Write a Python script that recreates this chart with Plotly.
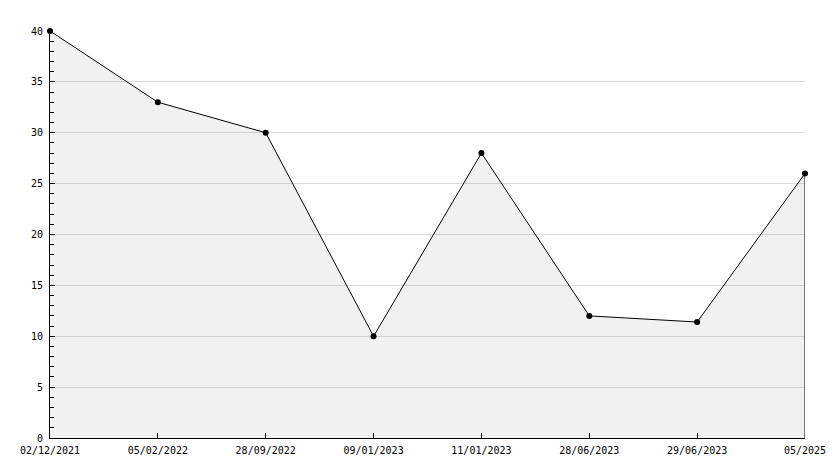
import plotly.graph_objects as go

categories = ["02/12/2021", "05/02/2022", "28/09/2022", "09/01/2023",
              "11/01/2023", "28/06/2023", "29/06/2023", "05/2025"]
values = [40, 33, 30, 10, 28, 12, 11.4, 26]
y_ticks = [0, 5, 10, 15, 20, 25, 30, 35, 40]

xs = list(range(len(categories)))

fig = go.Figure()
fig.add_trace(go.Scatter(
    x=xs, y=values, mode="lines+markers", fill="tozeroy",
    fillcolor="rgba(0,0,0,0.055)",
    line=dict(color="black", width=1),
    marker=dict(color="black", size=6, symbol="circle"),
    cliponaxis=False,
    hoverinfo="skip", showlegend=False,
))
# closing edge of the filled area at the last category
fig.add_trace(go.Scatter(
    x=[xs[-1], xs[-1]], y=[0, values[-1]], mode="lines",
    line=dict(color="black", width=1), cliponaxis=False,
    hoverinfo="skip", showlegend=False,
))

# page body adds an 8px offset, so the figure is sized to compensate
fig.update_layout(
    width=826, height=460,
    margin=dict(l=42, r=29, t=23, b=30),
    plot_bgcolor="white", paper_bgcolor="white",
    font=dict(family="DejaVu Sans Mono", size=10, color="black"),
)
fig.update_xaxes(
    range=[0, len(categories) - 1], tickvals=xs, ticktext=categories,
    showgrid=False, zeroline=False, automargin=False,
    showline=True, linecolor="black", linewidth=1,
    ticks="inside", ticklen=5, tickcolor="black", tickwidth=1,
    ticklabelstandoff=3,
)
fig.update_yaxes(
    range=[0, 40], tickvals=y_ticks, automargin=False,
    showgrid=True, gridcolor="#dcdcdc", gridwidth=1, zeroline=False,
    showline=True, linecolor="black", linewidth=1,
    ticks="inside", ticklen=5, tickcolor="black", tickwidth=1,
    minor=dict(dtick=1, ticks="inside", ticklen=4, tickcolor="black", showgrid=False),
    ticklabelstandoff=4,
)

fig.write_html("out.html")
